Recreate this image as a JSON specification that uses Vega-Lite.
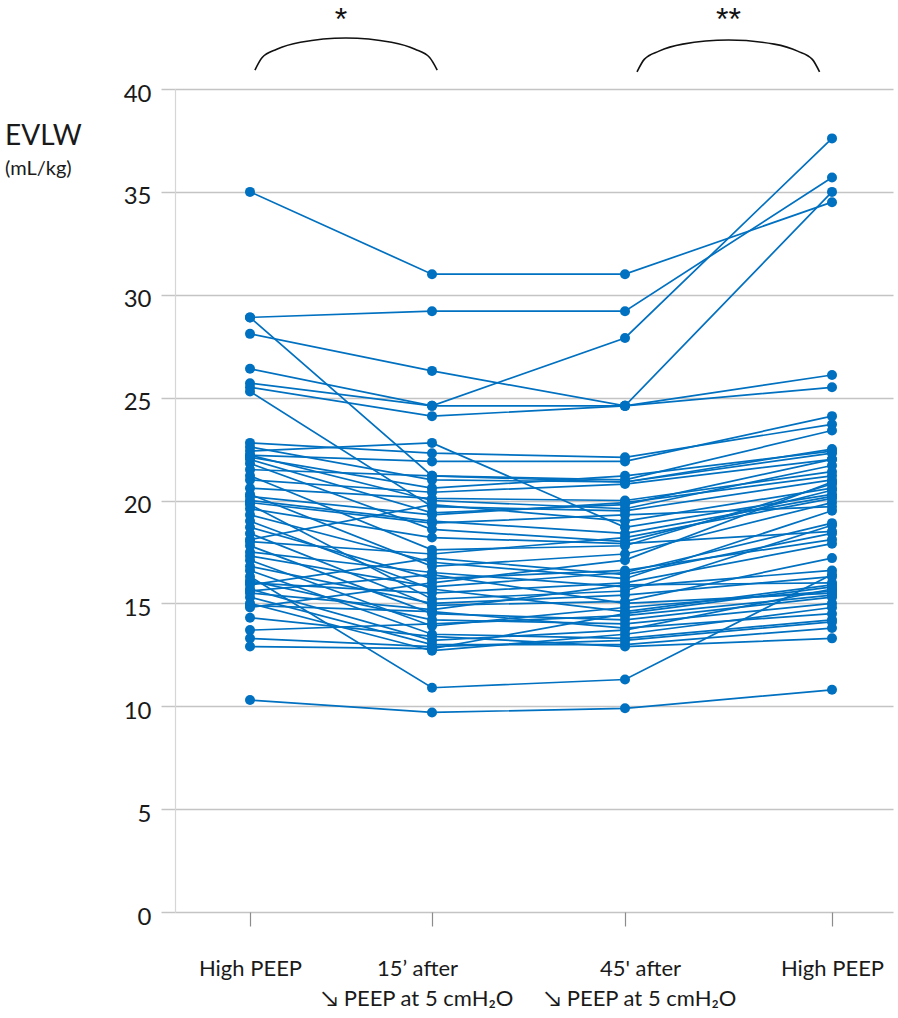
{
  "$schema": "https://vega.github.io/schema/vega-lite/v6.json",
  "width": 718,
  "height": 823,
  "autosize": {"type": "none"},
  "padding": {"left": 175, "top": 89, "right": 5, "bottom": 106},
  "background": "white",
  "config": {"view": {"stroke": null}, "font": "Lato"},
  "title": {
    "text": "EVLW",
    "subtitle": "(mL/kg)",
    "anchor": "start",
    "frame": "group",
    "orient": "top",
    "font": "Lato",
    "fontSize": 28,
    "fontWeight": "normal",
    "color": "#1a1a1a",
    "subtitleFont": "Lato",
    "subtitleFontSize": 20,
    "subtitleColor": "#1a1a1a",
    "subtitlePadding": 8,
    "offset": 0,
    "dx": -170,
    "dy": 175
  },
  "datasets": {
    "evlw": [
      {"patient":1,"t":1,"evlw":35.0},{"patient":1,"t":2,"evlw":31.0},{"patient":1,"t":3,"evlw":31.0},{"patient":1,"t":4,"evlw":34.5},
      {"patient":2,"t":1,"evlw":28.9},{"patient":2,"t":2,"evlw":29.2},{"patient":2,"t":3,"evlw":29.2},{"patient":2,"t":4,"evlw":35.7},
      {"patient":3,"t":1,"evlw":25.7},{"patient":3,"t":2,"evlw":24.6},{"patient":3,"t":3,"evlw":27.9},{"patient":3,"t":4,"evlw":37.6},
      {"patient":4,"t":1,"evlw":28.1},{"patient":4,"t":2,"evlw":26.3},{"patient":4,"t":3,"evlw":24.6},{"patient":4,"t":4,"evlw":35.0},
      {"patient":5,"t":1,"evlw":26.4},{"patient":5,"t":2,"evlw":24.6},{"patient":5,"t":3,"evlw":24.6},{"patient":5,"t":4,"evlw":26.1},
      {"patient":6,"t":1,"evlw":25.5},{"patient":6,"t":2,"evlw":24.1},{"patient":6,"t":3,"evlw":24.6},{"patient":6,"t":4,"evlw":25.5},
      {"patient":7,"t":1,"evlw":28.9},{"patient":7,"t":2,"evlw":21.2},{"patient":7,"t":3,"evlw":20.9},{"patient":7,"t":4,"evlw":22.3},
      {"patient":8,"t":1,"evlw":25.3},{"patient":8,"t":2,"evlw":19.7},{"patient":8,"t":3,"evlw":19.5},{"patient":8,"t":4,"evlw":21.0},
      {"patient":9,"t":1,"evlw":22.4},{"patient":9,"t":2,"evlw":22.8},{"patient":9,"t":3,"evlw":18.7},{"patient":9,"t":4,"evlw":20.3},
      {"patient":10,"t":1,"evlw":22.8},{"patient":10,"t":2,"evlw":22.3},{"patient":10,"t":3,"evlw":22.1},{"patient":10,"t":4,"evlw":23.7},
      {"patient":11,"t":1,"evlw":22.2},{"patient":11,"t":2,"evlw":21.9},{"patient":11,"t":3,"evlw":21.9},{"patient":11,"t":4,"evlw":24.1},
      {"patient":12,"t":1,"evlw":22.6},{"patient":12,"t":2,"evlw":21.0},{"patient":12,"t":3,"evlw":20.9},{"patient":12,"t":4,"evlw":22.5},
      {"patient":13,"t":1,"evlw":22.2},{"patient":13,"t":2,"evlw":20.0},{"patient":13,"t":3,"evlw":19.6},{"patient":13,"t":4,"evlw":21.7},
      {"patient":14,"t":1,"evlw":22.0},{"patient":14,"t":2,"evlw":19.4},{"patient":14,"t":3,"evlw":19.8},{"patient":14,"t":4,"evlw":22.0},
      {"patient":15,"t":1,"evlw":21.8},{"patient":15,"t":2,"evlw":18.6},{"patient":15,"t":3,"evlw":18.0},{"patient":15,"t":4,"evlw":20.5},
      {"patient":16,"t":1,"evlw":21.5},{"patient":16,"t":2,"evlw":21.2},{"patient":16,"t":3,"evlw":21.0},{"patient":16,"t":4,"evlw":23.4},
      {"patient":17,"t":1,"evlw":21.2},{"patient":17,"t":2,"evlw":17.6},{"patient":17,"t":3,"evlw":17.8},{"patient":17,"t":4,"evlw":20.8},
      {"patient":18,"t":1,"evlw":20.6},{"patient":18,"t":2,"evlw":20.1},{"patient":18,"t":3,"evlw":20.0},{"patient":18,"t":4,"evlw":21.4},
      {"patient":19,"t":1,"evlw":20.3},{"patient":19,"t":2,"evlw":16.8},{"patient":19,"t":3,"evlw":17.4},{"patient":19,"t":4,"evlw":19.9},
      {"patient":20,"t":1,"evlw":20.0},{"patient":20,"t":2,"evlw":19.0},{"patient":20,"t":3,"evlw":18.4},{"patient":20,"t":4,"evlw":20.2},
      {"patient":21,"t":1,"evlw":19.8},{"patient":21,"t":2,"evlw":15.2},{"patient":21,"t":3,"evlw":15.6},{"patient":21,"t":4,"evlw":18.8},
      {"patient":22,"t":1,"evlw":19.6},{"patient":22,"t":2,"evlw":18.2},{"patient":22,"t":3,"evlw":17.9},{"patient":22,"t":4,"evlw":18.5},
      {"patient":23,"t":1,"evlw":19.3},{"patient":23,"t":2,"evlw":17.0},{"patient":23,"t":3,"evlw":16.2},{"patient":23,"t":4,"evlw":19.5},
      {"patient":24,"t":1,"evlw":19.0},{"patient":24,"t":2,"evlw":15.7},{"patient":24,"t":3,"evlw":14.6},{"patient":24,"t":4,"evlw":15.9},
      {"patient":25,"t":1,"evlw":18.7},{"patient":25,"t":2,"evlw":16.2},{"patient":25,"t":3,"evlw":16.6},{"patient":25,"t":4,"evlw":18.1},
      {"patient":26,"t":1,"evlw":18.4},{"patient":26,"t":2,"evlw":14.9},{"patient":26,"t":3,"evlw":15.1},{"patient":26,"t":4,"evlw":17.2},
      {"patient":27,"t":1,"evlw":18.1},{"patient":27,"t":2,"evlw":19.8},{"patient":27,"t":3,"evlw":19.0},{"patient":27,"t":4,"evlw":20.6},
      {"patient":28,"t":1,"evlw":17.8},{"patient":28,"t":2,"evlw":14.5},{"patient":28,"t":3,"evlw":14.2},{"patient":28,"t":4,"evlw":15.3},
      {"patient":29,"t":1,"evlw":17.5},{"patient":29,"t":2,"evlw":16.5},{"patient":29,"t":3,"evlw":15.8},{"patient":29,"t":4,"evlw":16.6},
      {"patient":30,"t":1,"evlw":17.1},{"patient":30,"t":2,"evlw":13.9},{"patient":30,"t":3,"evlw":14.8},{"patient":30,"t":4,"evlw":15.6},
      {"patient":31,"t":1,"evlw":16.8},{"patient":31,"t":2,"evlw":15.0},{"patient":31,"t":3,"evlw":15.4},{"patient":31,"t":4,"evlw":16.3},
      {"patient":32,"t":1,"evlw":16.6},{"patient":32,"t":2,"evlw":13.5},{"patient":32,"t":3,"evlw":13.3},{"patient":32,"t":4,"evlw":14.2},
      {"patient":33,"t":1,"evlw":16.1},{"patient":33,"t":2,"evlw":14.2},{"patient":33,"t":3,"evlw":14.0},{"patient":33,"t":4,"evlw":15.0},
      {"patient":34,"t":1,"evlw":15.9},{"patient":34,"t":2,"evlw":17.2},{"patient":34,"t":3,"evlw":16.4},{"patient":34,"t":4,"evlw":18.4},
      {"patient":35,"t":1,"evlw":15.7},{"patient":35,"t":2,"evlw":13.2},{"patient":35,"t":3,"evlw":13.7},{"patient":35,"t":4,"evlw":15.7},
      {"patient":36,"t":1,"evlw":15.5},{"patient":36,"t":2,"evlw":14.7},{"patient":36,"t":3,"evlw":15.9},{"patient":36,"t":4,"evlw":16.0},
      {"patient":37,"t":1,"evlw":15.3},{"patient":37,"t":2,"evlw":13.0},{"patient":37,"t":3,"evlw":13.0},{"patient":37,"t":4,"evlw":13.8},
      {"patient":38,"t":1,"evlw":15.0},{"patient":38,"t":2,"evlw":12.7},{"patient":38,"t":3,"evlw":13.5},{"patient":38,"t":4,"evlw":14.8},
      {"patient":39,"t":1,"evlw":14.8},{"patient":39,"t":2,"evlw":16.0},{"patient":39,"t":3,"evlw":17.1},{"patient":39,"t":4,"evlw":20.9},
      {"patient":40,"t":1,"evlw":14.3},{"patient":40,"t":2,"evlw":13.4},{"patient":40,"t":3,"evlw":12.9},{"patient":40,"t":4,"evlw":13.3},
      {"patient":41,"t":1,"evlw":13.7},{"patient":41,"t":2,"evlw":14.0},{"patient":41,"t":3,"evlw":14.4},{"patient":41,"t":4,"evlw":15.4},
      {"patient":42,"t":1,"evlw":13.3},{"patient":42,"t":2,"evlw":12.9},{"patient":42,"t":3,"evlw":13.2},{"patient":42,"t":4,"evlw":14.1},
      {"patient":43,"t":1,"evlw":12.9},{"patient":43,"t":2,"evlw":12.8},{"patient":43,"t":3,"evlw":14.5},{"patient":43,"t":4,"evlw":15.8},
      {"patient":44,"t":1,"evlw":16.0},{"patient":44,"t":2,"evlw":15.5},{"patient":44,"t":3,"evlw":16.0},{"patient":44,"t":4,"evlw":17.9},
      {"patient":45,"t":1,"evlw":19.9},{"patient":45,"t":2,"evlw":18.9},{"patient":45,"t":3,"evlw":19.3},{"patient":45,"t":4,"evlw":19.7},
      {"patient":46,"t":1,"evlw":21.0},{"patient":46,"t":2,"evlw":20.4},{"patient":46,"t":3,"evlw":20.8},{"patient":46,"t":4,"evlw":22.0},
      {"patient":47,"t":1,"evlw":18.0},{"patient":47,"t":2,"evlw":17.4},{"patient":47,"t":3,"evlw":18.2},{"patient":47,"t":4,"evlw":20.1},
      {"patient":48,"t":1,"evlw":15.6},{"patient":48,"t":2,"evlw":16.4},{"patient":48,"t":3,"evlw":15.0},{"patient":48,"t":4,"evlw":15.5},
      {"patient":49,"t":1,"evlw":20.2},{"patient":49,"t":2,"evlw":19.3},{"patient":49,"t":3,"evlw":19.9},{"patient":49,"t":4,"evlw":21.2},
      {"patient":50,"t":1,"evlw":17.3},{"patient":50,"t":2,"evlw":15.8},{"patient":50,"t":3,"evlw":16.5},{"patient":50,"t":4,"evlw":18.9},
      {"patient":51,"t":1,"evlw":14.9},{"patient":51,"t":2,"evlw":14.6},{"patient":51,"t":3,"evlw":13.8},{"patient":51,"t":4,"evlw":14.5},
      {"patient":52,"t":1,"evlw":22.1},{"patient":52,"t":2,"evlw":20.6},{"patient":52,"t":3,"evlw":21.2},{"patient":52,"t":4,"evlw":22.4},
      {"patient":53,"t":1,"evlw":10.3},{"patient":53,"t":2,"evlw":9.7},{"patient":53,"t":3,"evlw":9.9},{"patient":53,"t":4,"evlw":10.8},
      {"patient":54,"t":1,"evlw":16.3},{"patient":54,"t":2,"evlw":10.9},{"patient":54,"t":3,"evlw":11.3},{"patient":54,"t":4,"evlw":16.4}
    ],
    "arcs": [
      {"arc":"a","t":1.027,"evlw":40.92},{"arc":"a","t":1.067,"evlw":41.53},{"arc":"a","t":1.147,"evlw":41.93},{"arc":"a","t":1.277,"evlw":42.27},{"arc":"a","t":1.527,"evlw":42.48},{"arc":"a","t":1.777,"evlw":42.27},{"arc":"a","t":1.907,"evlw":41.93},{"arc":"a","t":1.987,"evlw":41.53},{"arc":"a","t":2.027,"evlw":40.92},
      {"arc":"b","t":3.058,"evlw":40.83},{"arc":"b","t":3.093,"evlw":41.44},{"arc":"b","t":3.164,"evlw":41.84},{"arc":"b","t":3.279,"evlw":42.18},{"arc":"b","t":3.5,"evlw":42.38},{"arc":"b","t":3.721,"evlw":42.18},{"arc":"b","t":3.834,"evlw":41.84},{"arc":"b","t":3.905,"evlw":41.44},{"arc":"b","t":3.94,"evlw":40.83}
    ],
    "stars": [
      {"t":1.5,"evlw":42.87,"label":"*"},
      {"t":3.5,"evlw":42.87,"label":"**"}
    ]
  },
  "encoding": {
    "x": {
      "field": "t",
      "type": "quantitative",
      "scale": {"type": "linear", "domain": [0.588, 1, 2, 3, 4, 4.295], "range": [0, 75, 257, 450, 657, 718], "nice": false, "zero": false},
      "axis": {
        "values": [1, 2, 3, 4],
        "title": null,
        "grid": false,
        "domain": false,
        "ticks": true,
        "tickSize": 14,
        "tickColor": "#8c8c8c",
        "tickWidth": 1.2,
        "labelFont": "Lato",
        "labelFontSize": 22,
        "labelColor": "#1a1a1a",
        "labelPadding": 32,
        "labelLineHeight": 30,
        "labelBaseline": "top",
        "labelFlush": false,
        "labelOverlap": false,
        "labelBound": false,
        "labelLimit": 400,
        "labelOffset": {"expr": "datum.value == 2 ? -15 : datum.value == 3 ? 15 : 0"},
        "labelExpr": "datum.value == 1 ? 'High PEEP' : datum.value == 2 ? ['15’ after', '↘ PEEP at 5 cmH₂O'] : datum.value == 3 ? [\"45' after\", '↘ PEEP at 5 cmH₂O'] : 'High PEEP'"
      }
    },
    "y": {
      "field": "evlw",
      "type": "quantitative",
      "scale": {"domain": [0, 40], "nice": false, "zero": true},
      "axis": {
        "values": [0, 5, 10, 15, 20, 25, 30, 35, 40],
        "title": null,
        "grid": true,
        "gridColor": "#c4c4c4",
        "gridWidth": 1.5,
        "domain": true,
        "domainColor": "#d6d6d6",
        "domainWidth": 1.2,
        "tickColor": "#c4c4c4",
        "tickSize": 14,
        "tickWidth": 1.5,
        "labelFont": "Lato",
        "labelFontSize": 24,
        "labelColor": "#1a1a1a",
        "labelPadding": 10,
        "labelOffset": 5
      }
    }
  },
  "layer": [
    {
      "data": {"name": "evlw"},
      "mark": {"type": "line", "color": "#0070C0", "strokeWidth": 1.7},
      "encoding": {"detail": {"field": "patient", "type": "nominal"}}
    },
    {
      "data": {"name": "evlw"},
      "mark": {"type": "point", "filled": true, "size": 100, "opacity": 1, "color": "#0070C0"}
    },
    {
      "data": {"name": "arcs"},
      "mark": {"type": "line", "color": "#111111", "strokeWidth": 1.6, "interpolate": "monotone"},
      "encoding": {"detail": {"field": "arc", "type": "nominal"}}
    },
    {
      "data": {"name": "stars"},
      "mark": {"type": "text", "fontSize": 32, "color": "#111111", "font": "Liberation Sans", "baseline": "alphabetic"},
      "encoding": {"text": {"field": "label", "type": "nominal"}}
    }
  ]
}
